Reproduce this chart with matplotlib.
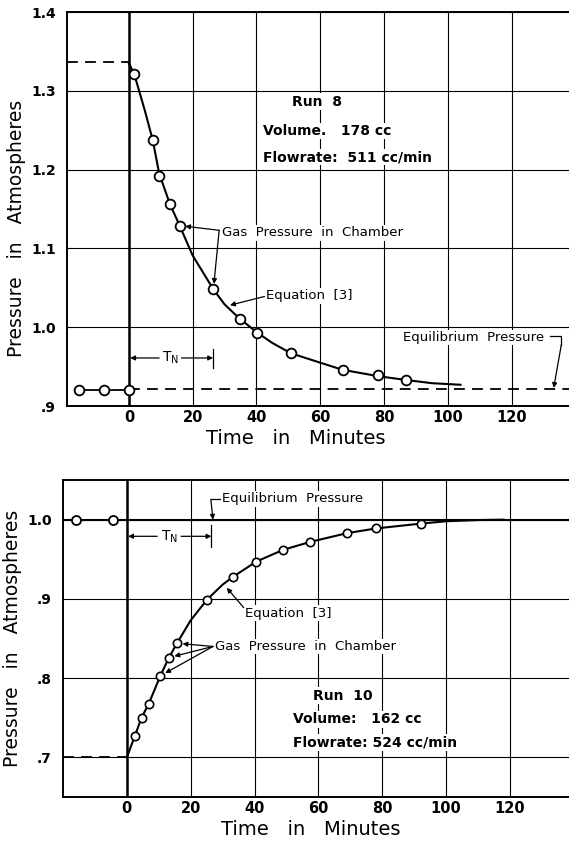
import matplotlib
matplotlib.use('Agg')
from matplotlib import pyplot as plt

plt.rcParams['font.family'] = ['DejaVu Sans']
plt.rcParams['mathtext.fontset'] = 'dejavusans'

# ---- Run 8 (top) ----
run8_pre_t = [-15.6, -7.8, 0]
run8_pre_p = [0.920, 0.920, 0.920]
run8_t = [1.7, 7.5, 9.5, 12.8, 15.9, 26.5, 34.7, 40.3, 50.8, 67.0, 78.0, 87.0]
run8_p = [1.321, 1.237, 1.192, 1.157, 1.129, 1.048, 1.011, 0.993, 0.967, 0.946, 0.939, 0.933]
run8_curve_t = [0.0, 1.7, 5.0, 7.5, 9.5, 12.8, 15.9, 20.0, 26.5, 30.0, 34.7, 40.3,
                45.0, 50.8, 60.0, 67.0, 78.0, 87.0, 95.0, 104.0]
run8_curve_p = [1.335, 1.321, 1.275, 1.237, 1.195, 1.157, 1.129, 1.091, 1.048, 1.029,
                1.011, 0.993, 0.980, 0.967, 0.955, 0.946, 0.938, 0.933, 0.929, 0.927]
run8_start = 1.336
run8_equil = 0.921

# ---- Run 10 (bottom) ----
run10_pre_t = [-16.0, -4.3]
run10_pre_p = [1.000, 0.999]
run10_t = [2.5, 4.6, 6.9, 10.5, 13.2, 15.7, 25.1, 33.3, 40.5, 49.0, 57.5, 69.0, 78.2, 92.0]
run10_p = [0.727, 0.750, 0.768, 0.803, 0.826, 0.844, 0.899, 0.928, 0.947, 0.962,
           0.972, 0.983, 0.989, 0.995]
run10_curve_t = [0.0, 2.5, 4.6, 6.9, 10.5, 13.2, 15.7, 20.0, 25.1, 30.0, 33.3, 40.5,
                 49.0, 57.5, 69.0, 78.2, 92.0, 100.0, 110.0, 118.0]
run10_curve_p = [0.700, 0.727, 0.750, 0.768, 0.803, 0.826, 0.844, 0.873, 0.899, 0.918,
                 0.928, 0.947, 0.962, 0.972, 0.983, 0.989, 0.995, 0.998, 0.9995, 1.000]
run10_start = 0.700
run10_equil = 1.000

x_ticks = [0, 20, 40, 60, 80, 100, 120]
x_labels = ['0', '20', '40', '60', '80', '100', '120']
top_yticks = [0.9, 1.0, 1.1, 1.2, 1.3, 1.4]
top_ylabels = ['.9', '1.0', '1.1', '1.2', '1.3', '1.4']
bot_yticks = [0.7, 0.8, 0.9, 1.0]
bot_ylabels = ['.7', '.8', '.9', '1.0']

fig = plt.figure(figsize=(5.69, 8.41), dpi=100)
ax1 = fig.add_axes([0.1178, 0.5172, 0.8822, 0.4685])
ax2 = fig.add_axes([0.1107, 0.0523, 0.8893, 0.3769])

box = dict(facecolor='white', edgecolor='none', pad=1.0)
arrow = dict(arrowstyle='-|>', color='k', lw=0.9, shrinkA=0, shrinkB=4, mutation_scale=7)
note_fs = 9.5


def style_axes(ax, xlim, ylim, yticks, ylabels):
    ax.set_xlim(*xlim)
    ax.set_ylim(*ylim)
    ax.set_xticks(x_ticks)
    ax.set_xticklabels(x_labels, fontsize=10.5, fontweight='bold')
    ax.set_yticks(yticks)
    ax.set_yticklabels(ylabels, fontsize=10, fontweight='bold')
    ax.tick_params(axis='x', length=0, pad=3)
    ax.tick_params(axis='y', length=0, pad=8)
    ax.grid(True, color='k', lw=0.8)
    ax.set_axisbelow(True)
    for s in ['left', 'bottom', 'top']:
        ax.spines[s].set_linewidth(1.4)
    ax.spines['right'].set_visible(False)
    ax.axvline(0, color='k', lw=1.8, zorder=1)
    ax.set_xlabel('Time   in   Minutes', fontsize=14, labelpad=3)
    ax.set_ylabel('Pressure   in   Atmospheres', fontsize=13.5, labelpad=4)


# top chart
style_axes(ax1, (-19.4, 138), (0.9, 1.4), top_yticks, top_ylabels)
ax1.xaxis.label.set_x(0.456)
ax1.yaxis.label.set_y(0.45)
ax1.plot([-19.4, 0], [run8_start, run8_start], color='k', lw=1.3, ls=(0, (6, 4)), zorder=3)
ax1.plot([0, 138], [run8_equil, run8_equil], color='k', lw=1.3, ls=(0, (6, 4)), zorder=3)
ax1.plot(run8_pre_t, run8_pre_p, color='k', lw=1.3, marker='o', ms=7,
         mfc='white', mec='k', mew=1.3, zorder=4)
ax1.plot(run8_curve_t, run8_curve_p, color='k', lw=1.5, zorder=4)
ax1.plot(run8_t, run8_p, ls='none', marker='o', ms=7, mfc='white', mec='k', mew=1.3, zorder=5)

ax1.text(51.1, 1.286, 'Run  8', fontsize=10, fontweight='bold', va='center', bbox=box)
ax1.text(42.0, 1.249, 'Volume.   178 cc', fontsize=10, fontweight='bold', va='center', bbox=box)
ax1.text(42.0, 1.216, 'Flowrate:  511 cc/min', fontsize=10, fontweight='bold', va='center', bbox=box)

ax1.text(29.2, 1.120, 'Gas  Pressure  in  Chamber', fontsize=note_fs, va='center', bbox=box)
ax1.annotate('', xy=(15.9, 1.129), xytext=(28.3, 1.123), arrowprops=arrow)
ax1.annotate('', xy=(26.5, 1.048), xytext=(28.3, 1.123), arrowprops=arrow)

ax1.text(43.0, 1.040, 'Equation  [3]', fontsize=note_fs, va='center', bbox=box)
ax1.annotate('', xy=(31.7, 1.028), xytext=(42.5, 1.039),
             arrowprops=dict(arrow, shrinkB=0))

ax1.annotate('', xy=(0.4, 0.961), xytext=(9.5, 0.961),
             arrowprops=dict(arrow, shrinkB=0))
ax1.annotate('', xy=(26.4, 0.961), xytext=(16.5, 0.961),
             arrowprops=dict(arrow, shrinkB=0))
ax1.plot([26.4, 26.4], [0.948, 0.972], color='k', lw=0.9)
ax1.text(13.0, 0.961, r'$\mathsf{T_N}$', fontsize=10, ha='center', va='center', bbox=box)

ax1.text(85.9, 0.987, 'Equilibrium  Pressure', fontsize=note_fs, va='center', bbox=box)
ax1.plot([132.0, 135.6, 135.6], [0.989, 0.989, 0.978], color='k', lw=0.9)
ax1.annotate('', xy=(133.2, 0.923), xytext=(135.6, 0.978),
             arrowprops=dict(arrow, shrinkB=0))

# bottom chart
style_axes(ax2, (-20, 138.5), (0.65, 1.05), bot_yticks, bot_ylabels)
ax2.xaxis.label.set_x(0.49)
ax2.plot([-20, 0], [run10_start, run10_start], color='k', lw=1.3, ls=(0, (6, 4)), zorder=3)
ax2.plot([-20, 138.5], [run10_equil, run10_equil], color='k', lw=1.5, zorder=3)
ax2.plot(run10_pre_t, run10_pre_p, ls='none', marker='o', ms=6.5,
         mfc='white', mec='k', mew=1.3, zorder=5)
ax2.plot(run10_curve_t, run10_curve_p, color='k', lw=1.5, zorder=4)
ax2.plot(run10_t, run10_p, ls='none', marker='o', ms=6, mfc='white', mec='k', mew=1.2, zorder=5)

ax2.text(29.8, 1.0266, 'Equilibrium  Pressure', fontsize=note_fs, va='center', bbox=box)
ax2.plot([29.3, 26.3], [1.0255, 1.0255], color='k', lw=0.9)
ax2.annotate('', xy=(27.0, 1.0), xytext=(26.3, 1.0255),
             arrowprops=dict(arrow, shrinkB=0))

ax2.annotate('', xy=(0.4, 0.979), xytext=(9.5, 0.979),
             arrowprops=dict(arrow, shrinkB=0))
ax2.annotate('', xy=(26.5, 0.979), xytext=(17.0, 0.979),
             arrowprops=dict(arrow, shrinkB=0))
ax2.plot([26.5, 26.5], [0.966, 0.993], color='k', lw=0.9)
ax2.text(13.5, 0.979, r'$\mathsf{T_N}$', fontsize=10, ha='center', va='center', bbox=box)

ax2.text(37.0, 0.882, 'Equation  [3]', fontsize=note_fs, va='center', bbox=box)
ax2.annotate('', xy=(31.3, 0.914), xytext=(36.6, 0.889),
             arrowprops=dict(arrow, shrinkB=0))

ax2.text(27.6, 0.840, 'Gas  Pressure  in  Chamber', fontsize=note_fs, va='center', bbox=box)
for gt, gp in zip(run10_t[3:6], run10_p[3:6]):
    ax2.annotate('', xy=(gt, gp), xytext=(27.0, 0.840), arrowprops=arrow)

ax2.text(58.3, 0.778, 'Run  10', fontsize=10, fontweight='bold', va='center', bbox=box)
ax2.text(52.0, 0.748, 'Volume:   162 cc', fontsize=10, fontweight='bold', va='center', bbox=box)
ax2.text(52.0, 0.719, 'Flowrate: 524 cc/min', fontsize=10, fontweight='bold', va='center', bbox=box)

fig.savefig('out.png', dpi=100)
